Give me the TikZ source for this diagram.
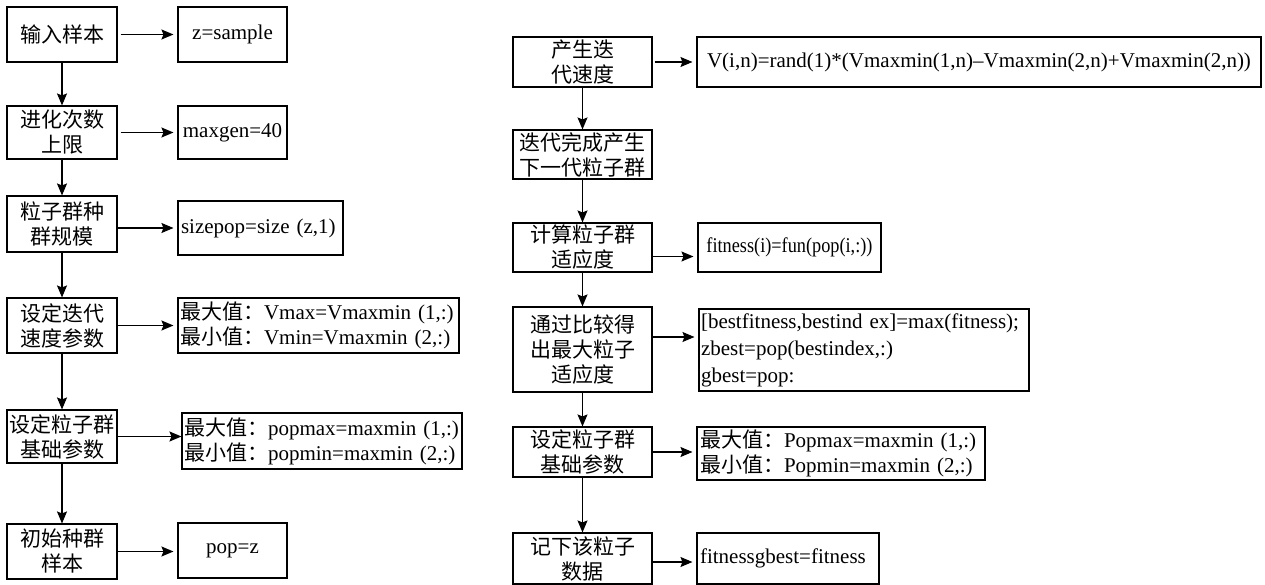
\documentclass[tikz,border=0pt]{standalone}
\usepackage{fontspec}
\setmainfont{Liberation Serif}
\newfontfamily\cjk{Noto Sans CJK SC}
\usetikzlibrary{arrows.meta}
\begin{document}
\begin{tikzpicture}[x=1pt,y=-1pt,
  base/.style={draw, line width=1.1pt, inner sep=0pt, align=center,
    font=\fontsize{21}{25}\selectfont},
  cbox/.style={base, font=\cjk\fontsize{21}{25}\selectfont},
  sz/.style 2 args={minimum width=#1, minimum height=#2},
  lsz/.style n args={3}{text width=#1, inner xsep=#3, minimum height=#2, align=left},
  arr/.style={-{Stealth[length=12pt,width=10pt,inset=2pt]}, line width=1.1pt},
  harr/.style={arr, shorten >=4pt},
]
\useasboundingbox (0,0) rectangle (1265,585);

% left chain: steps
\node[cbox, sz={110}{55}] (L1) at (62,34.5) {输入样本};
\node[cbox, sz={110}{53}] (L2) at (62,132.5) {进化次数\\上限};
\node[cbox, sz={110}{56}] (L3) at (62,224) {粒子群种\\群规模};
\node[cbox, sz={110}{55}] (L4) at (62,325.5) {设定迭代\\速度参数};
\node[cbox, sz={110}{53}] (L5) at (62,436.5) {设定粒子群\\基础参数};
\node[cbox, sz={110}{55}] (L6) at (62,551.5) {初始种群\\样本};

% left chain: values
\node[base, sz={109}{55}] (R1) at (232.5,34.5) {z=sample};
\node[base, sz={109}{53}] (R2) at (232.5,132.5) {maxgen=40};
\node[base, lsz={159pt}{54}{3pt}] (R3) at (260.5,228) {sizepop=size (z,1)};
\node[base, lsz={277pt}{55}{2pt}] (R4) at (318.5,325.5)
  {{\cjk 最大值：}Vmax=Vmaxmin (1,:)\\{\cjk 最小值：}Vmin=Vmaxmin (2,:)};
\node[base, lsz={276pt}{56}{2pt}] (R5) at (322,441)
  {{\cjk 最大值：}popmax=maxmin (1,:)\\{\cjk 最小值：}popmin=maxmin (2,:)};
\node[base, sz={109}{55}] (R6) at (232.5,550.5) {pop=z};

% right chain: steps
\node[cbox, sz={139}{50}] (A) at (582.5,62) {产生迭\\代速度};
\node[cbox, sz={139}{49}] (B) at (582.5,154.5) {迭代完成产生\\下一代粒子群};
\node[cbox, sz={139}{49}] (C) at (582.5,247.5) {计算粒子群\\适应度};
\node[cbox, sz={139}{85}] (D) at (582.5,349.5) {通过比较得\\出最大粒子\\适应度};
\node[cbox, sz={139}{50}] (E) at (582.5,452) {设定粒子群\\基础参数};
\node[cbox, sz={139}{51}] (F) at (582.5,558.5) {记下该粒子\\数据};

% right chain: values
\node[base, sz={564}{50}] (AV) at (979,62)
  {V(i,n)=rand(1)*(Vmaxmin(1,n)--Vmaxmin(2,n)+Vmaxmin(2,n))};
\node[base, sz={183}{49}] (CV) at (789.5,247.5)
  {\scalebox{0.87}[1]{fitness(i)=fun(pop(i,:))}};
\node[base, lsz={326pt}{82}{2pt}, font=\fontsize{21}{27}\selectfont] (DV) at (864,350)
  {[bestfitness,bestind ex]=max(fitness);\\zbest=pop(bestindex,:)\\gbest=pop:};
\node[base, lsz={282pt}{53}{3pt}] (EV) at (841,453.5)
  {{\cjk 最大值：}Popmax=maxmin (1,:)\\{\cjk 最小值：}Popmin=maxmin (2,:)};
\node[base, lsz={176pt}{51}{3pt}] (FV) at (788,558.5) {fitnessgbest=fitness};

% vertical flow
\draw[arr] (L1) -- (L2);
\draw[arr] (L2) -- (L3);
\draw[arr] (L3) -- (L4);
\draw[arr] (L4) -- (L5);
\draw[arr] (L5) -- (L6);
\draw[arr] (A) -- (B);
\draw[arr] (B) -- (C);
\draw[arr] (C) -- (D);
\draw[arr] (D) -- (E);
\draw[arr] (E) -- (F);

% horizontal links to values
\draw[harr, shorten <=3pt] (L1) -- (R1);
\draw[harr, shorten <=3pt] (L2) -- (R2);
\draw[harr] (L3.east |- R3.west) -- (R3.west);
\draw[harr] (L4) -- (R4);
\draw[arr] (L5.east) -- (R5.west |- L5.east);
\draw[harr] (L6.east) -- (R6.west |- L6.east);
\draw[harr, shorten <=2pt] (A) -- (AV);
\draw[harr] ([yshift=-9pt]C.east) -- ([yshift=-9pt]CV.west);
\draw[harr] ([yshift=12.5pt]D.east) -- ([yshift=13pt]DV.west);
\draw[harr] (E.east) -- (EV.west |- E.east);
\draw[harr] ([yshift=-3.5pt]F.east) -- ([yshift=-3.5pt]FV.west);
\end{tikzpicture}
\end{document}
